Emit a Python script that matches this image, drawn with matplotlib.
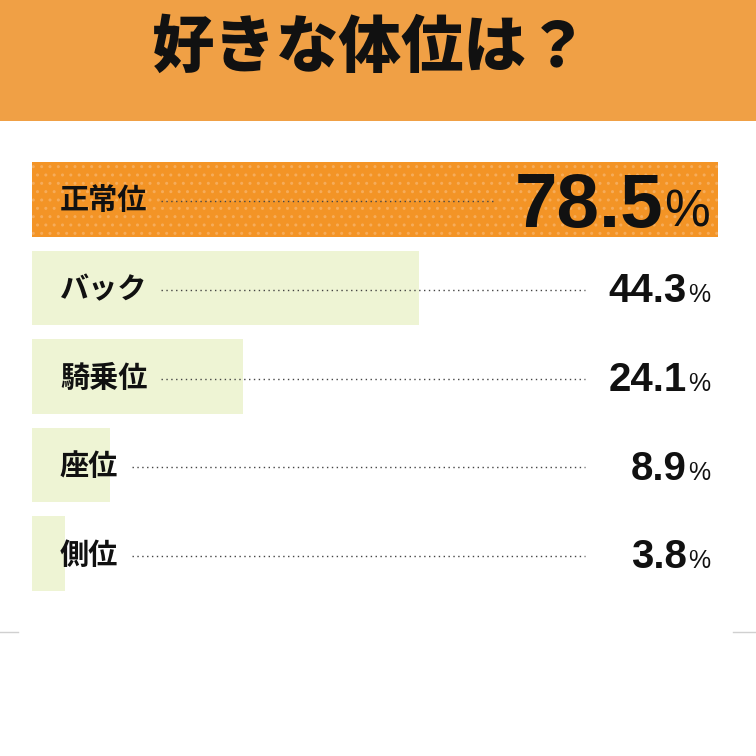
import matplotlib.pyplot as plt
from matplotlib.patches import Rectangle

# データ
title = "好きな体位は？"
positions = ["正常位", "バック", "騎乗位", "座位", "側位"]
shares = [78.5, 44.3, 24.1, 8.9, 3.8]
value_labels = ["78.5", "44.3", "24.1", "8.9", "3.8"]

jp = ["Noto Sans CJK JP", "DejaVu Sans"]
num = ["Liberation Sans", "DejaVu Sans"]
W = 756

fig = plt.figure(figsize=(7.56, 7.56), dpi=100)
fig.patch.set_facecolor("white")

# 背景（ピクセル座標）
bg = fig.add_axes([0, 0, 1, 1], zorder=0)
bg.set_xlim(0, W)
bg.set_ylim(W, 0)
bg.axis("off")
bg.add_patch(Rectangle((0, 0), W, 121, color="#F0A045", lw=0))
bg.text(371, 48, title, ha="center", va="center", fontsize=45,
        fontweight="black", family=jp, color="#111111")
bg.plot([0, 18], [632, 632], color="#d0d0d0", lw=1)
bg.plot([733, W], [632, 632], color="#d0d0d0", lw=1)

# 棒グラフ
ax = fig.add_axes([32 / W, (W - 591) / W, 686 / W, 429 / W], zorder=1)
ax.axis("off")
rows = list(range(len(positions)))
h = 75 / 89
colors = ["#F39426"] + ["#EEF4D4"] * (len(positions) - 1)
bars = ax.barh(rows, shares, height=h, color=colors, lw=0)
bars[0].set_hatch("..")
bars[0].set_edgecolor("#F6AC5A")
ax.set_xlim(0, max(shares))
ax.set_ylim(len(positions) - 1 + h / 2, -h / 2)

# テキスト
over = fig.add_axes([0, 0, 1, 1], zorder=2)
over.set_xlim(0, W)
over.set_ylim(W, 0)
over.axis("off")

fig.canvas.draw()
renderer = fig.canvas.get_renderer()

for i, (name, lab) in enumerate(zip(positions, value_labels)):
    yc = W - ax.transData.transform((0, i))[1]
    big = i == 0
    nfs = 55 if big else 29
    pfs = 37 if big else 18
    t = over.text(60, yc + 1, name, ha="left", va="center", fontsize=21,
                  fontweight="bold", family=jp, color="#111111")
    cap = 0.716 * nfs / 72 * 100
    p = over.text(710, yc + cap / 2, "%", ha="right", va="baseline",
                  fontsize=pfs, family=num, color="#111111")
    pl = p.get_window_extent(renderer).x0
    n = over.text(pl - 1, yc + cap / 2, lab, ha="right", va="baseline",
                  fontsize=nfs, fontweight="bold", family=num, color="#111111")
    nl = n.get_window_extent(renderer).x0
    tr = t.get_window_extent(renderer).x1
    end = min(585, nl - 20)
    over.plot([tr + 14, end], [yc + 2, yc + 2], color="#444444", lw=1,
              linestyle=(0, (1, 2.5)))

fig.savefig("out.png", dpi=100)
